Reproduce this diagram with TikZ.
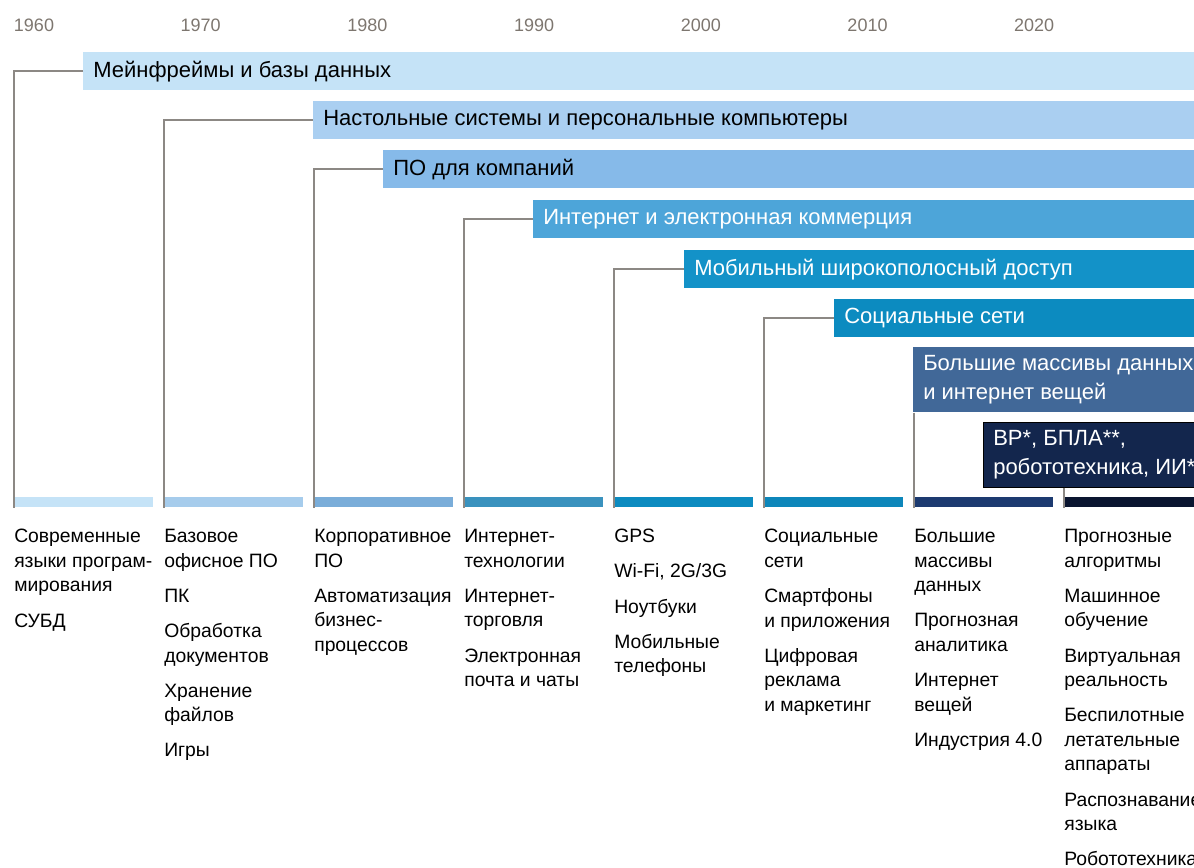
\documentclass[tikz,border=0pt]{standalone}
\usepackage{fontspec}
\setmainfont{Liberation Sans}
\usetikzlibrary{positioning}

\definecolor{bara}{HTML}{C5E3F7}
\definecolor{barb}{HTML}{AACFF1}
\definecolor{barc}{HTML}{86BAE9}
\definecolor{bard}{HTML}{4DA5D9}
\definecolor{bare}{HTML}{1392C8}
\definecolor{barf}{HTML}{0C8BC0}
\definecolor{barg}{HTML}{416898}
\definecolor{barh}{HTML}{13264D}
\definecolor{sega}{HTML}{C5E3F7}
\definecolor{segb}{HTML}{A6CCEC}
\definecolor{segc}{HTML}{7AADD9}
\definecolor{segd}{HTML}{3A92BE}
\definecolor{sege}{HTML}{0C8BC0}
\definecolor{segf}{HTML}{0D86BA}
\definecolor{segg}{HTML}{1C3A70}
\definecolor{segh}{HTML}{0A1530}
\definecolor{linegray}{HTML}{8C8884}
\definecolor{yeargray}{HTML}{7D766F}

\tikzset{
    bar/.style={fill=#1, anchor=north west, inner sep=0pt, minimum height=28.5pt},
    barlabel/.style={inner sep=0pt, align=left, font=\fontsize{16.5}{21.5}\selectfont},
    segbox/.style={anchor=north west, inner sep=0pt, minimum height=7.5pt},
    conn/.style={draw=linegray, line width=1.7pt},
    yearlabel/.style={text=yeargray, font=\fontsize{13.5}{16}\selectfont},
    coltext/.style={anchor=north west, inner sep=0pt, align=left, font=\fontsize{14.5}{18.4}\selectfont}
}

\begin{document}
\begin{tikzpicture}[x=0.75pt, y=-0.75pt]
    \useasboundingbox (0,0) rectangle (1194,867);

    % years
    \foreach \yr [count=\i from 0] in {1960,1970,1980,1990,2000,2010,2020}
        \node[yearlabel] (y\yr) at ({34+166.7*\i}, 25) {\yr};

    % bars
    \node[bar=bara, minimum width=833.25pt] (bar1) at (83,52) {};
    \node[barlabel, right=7.5pt of bar1.west] (lab1) {Мейнфреймы и базы данных};

    \node[bar=barb, minimum width=660.75pt] (bar2) at (313,101) {};
    \node[barlabel, right=7.5pt of bar2.west] (lab2) {Настольные системы и персональные компьютеры};

    \node[bar=barc, minimum width=608.25pt] (bar3) at (383,150) {};
    \node[barlabel, right=7.5pt of bar3.west] (lab3) {ПО для компаний};

    \node[bar=bard, minimum width=495.75pt] (bar4) at (533,200) {};
    \node[barlabel, text=white, right=7.5pt of bar4.west] (lab4) {Интернет и электронная коммерция};

    \node[bar=bare, minimum width=382.5pt] (bar5) at (684,250) {};
    \node[barlabel, text=white, right=7.5pt of bar5.west] (lab5) {Мобильный широкополосный доступ};

    \node[bar=barf, minimum width=270pt] (bar6) at (834,299) {};
    \node[barlabel, text=white, right=7.5pt of bar6.west] (lab6) {Социальные сети};

    \node[bar=barg, minimum width=210.75pt, minimum height=48.75pt] (bar7) at (913,347) {};
    \node[barlabel, text=white, right=7.5pt of bar7.west] (lab7) {Большие массивы данных\\и интернет вещей};

    \node[bar=barh, draw=black, minimum width=158.25pt, minimum height=48.75pt] (bar8) at (983,422) {};
    \node[barlabel, text=white, right=7.5pt of bar8.west] (lab8) {ВР*, БПЛА**,\\робототехника, ИИ***};

    % bottom strip
    \foreach \c/\w [count=\i] in {sega/104.25, segb/104.25, segc/104.25, segd/104.25,
                                 sege/104.25, segf/104.25, segg/104.25, segh/97.5}
        \node[segbox, fill=\c, minimum width=\w pt] (seg\i) at ({14+150*(\i-1)}, 497) {};

    % connectors
    \foreach \i in {1,...,6}
        \draw[conn] (bar\i.west) -| (seg\i.south west);
    \draw[conn] (seg7.south west |- bar7.south) -- (seg7.south west);
    \draw[conn] (seg8.south west |- bar8.south) -- (seg8.south west);

    % column texts
    \node[coltext] (col1) at (14,529) {Современные\\языки програм-\\мирования\\[8pt]СУБД};
    \node[coltext] (col2) at (164,529) {Базовое\\офисное ПО\\[8pt]ПК\\[8pt]Обработка\\документов\\[8pt]Хранение\\файлов\\[8pt]Игры};
    \node[coltext] (col3) at (314,529) {Корпоративное\\ПО\\[8pt]Автоматизация\\бизнес-\\процессов};
    \node[coltext] (col4) at (464,529) {Интернет-\\технологии\\[8pt]Интернет-\\торговля\\[8pt]Электронная\\почта и чаты};
    \node[coltext] (col5) at (614,529) {GPS\\[8pt]Wi-Fi, 2G/3G\\[8pt]Ноутбуки\\[8pt]Мобильные\\телефоны};
    \node[coltext] (col6) at (764,529) {Социальные\\сети\\[8pt]Смартфоны\\и приложения\\[8pt]Цифровая\\реклама\\и маркетинг};
    \node[coltext] (col7) at (914,529) {Большие\\массивы\\данных\\[8pt]Прогнозная\\аналитика\\[8pt]Интернет\\вещей\\[8pt]Индустрия 4.0};
    \node[coltext] (col8) at (1064,529) {Прогнозные\\алгоритмы\\[8pt]Машинное\\обучение\\[8pt]Виртуальная\\реальность\\[8pt]Беспилотные\\летательные\\аппараты\\[8pt]Распознавание\\языка\\[8pt]Робототехника};
\end{tikzpicture}
\end{document}
